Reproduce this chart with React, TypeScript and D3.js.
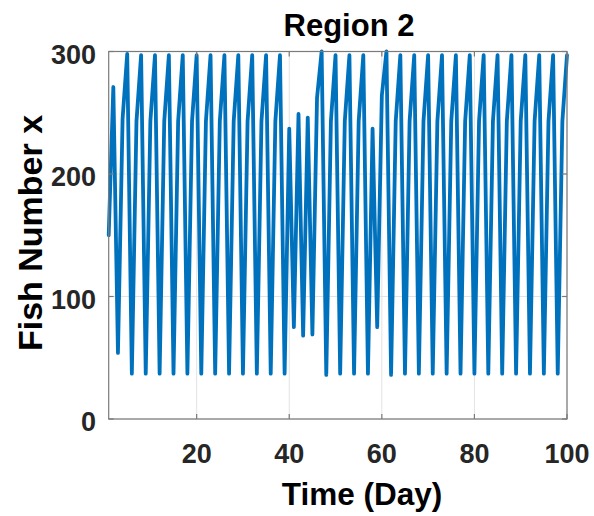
import React from "react";
import * as d3 from "d3";

const days: number[] = [
  1, 2, 3, 4, 5, 6, 7, 8, 9, 10, 11, 12, 13, 14, 15, 16, 17, 18, 19, 20,
  21, 22, 23, 24, 25, 26, 27, 28, 29, 30, 31, 32, 33, 34, 35, 36, 37, 38, 39, 40,
  41, 42, 43, 44, 45, 46, 47, 48, 49, 50, 51, 52, 53, 54, 55, 56, 57, 58, 59, 60,
  61, 62, 63, 64, 65, 66, 67, 68, 69, 70, 71, 72, 73, 74, 75, 76, 77, 78, 79, 80,
  81, 82, 83, 84, 85, 86, 87, 88, 89, 90, 91, 92, 93, 94, 95, 96, 97, 98, 99, 100,
];

const fish: number[] = [
  150, 271, 54, 245, 298, 37, 243, 297, 37, 243,
  297, 37, 243, 297, 37, 243, 297, 37, 243, 297,
  37, 243, 297, 37, 243, 297, 37, 243, 297, 37,
  243, 297, 37, 243, 297, 37, 243, 297, 37, 237,
  75, 249, 68, 246, 69, 262, 300, 36, 243, 297,
  37, 243, 297, 37, 243, 297, 37, 237, 75, 264,
  300, 36, 243, 297, 37, 243, 297, 37, 243, 297,
  37, 243, 297, 37, 243, 297, 37, 243, 297, 37,
  243, 297, 37, 243, 297, 37, 243, 297, 37, 243,
  297, 37, 243, 297, 37, 243, 297, 37, 243, 297,
];

const xTicks: number[] = [20, 40, 60, 80, 100];
const yTicks: number[] = [0, 100, 200, 300];
const titleText = "Region 2";
const xLabel = "Time (Day)";
const yLabel = "Fish Number x";

const W = 594;
const H = 516;
const L = 108.7;
const R = 567;
const T = 51.5;
const B = 419;

export default function App() {
  const x = d3.scaleLinear().domain([1, 100]).range([L, R]);
  const y = d3.scaleLinear().domain([0, 300]).range([B, T]);
  const pts = days.map((d, i) => [d, fish[i]] as [number, number]);
  const line = d3
    .line<[number, number]>()
    .x((d) => x(d[0]))
    .y((d) => y(d[1]));
  const font = "'Liberation Sans', Arial, sans-serif";
  const tickLen = 5;
  return (
    <svg
      width={W}
      height={H}
      style={{ position: "absolute", left: 0, top: 0, background: "#fff" }}
      fontFamily={font}
    >
      <rect x={0} y={0} width={W} height={H} fill="#fff" />
      {xTicks.map((t) => (
        <line key={"gx" + t} x1={x(t)} x2={x(t)} y1={T} y2={B} stroke="#e3e3e3" strokeWidth={1} />
      ))}
      {yTicks.map((t) => (
        <line key={"gy" + t} x1={L} x2={R} y1={y(t)} y2={y(t)} stroke="#e3e3e3" strokeWidth={1} />
      ))}
      <path d={line(pts) || ""} fill="none" stroke="#0072BD" strokeWidth={3.8} strokeLinejoin="round" strokeLinecap="round" />
      <rect x={L} y={T} width={R - L} height={B - T} fill="none" stroke="#7a7a7a" strokeWidth={1.2} />
      {xTicks.map((t) => (
        <g key={"tx" + t}>
          <line x1={x(t)} x2={x(t)} y1={B} y2={B - tickLen} stroke="#7a7a7a" strokeWidth={1.2} />
          <line x1={x(t)} x2={x(t)} y1={T} y2={T + tickLen} stroke="#7a7a7a" strokeWidth={1.2} />
          <text x={x(t)} y={463} textAnchor="middle" fontSize={27} fontWeight="bold" fill="#262626">
            {t}
          </text>
        </g>
      ))}
      {yTicks.map((t) => (
        <g key={"ty" + t}>
          <line x1={L} x2={L + tickLen} y1={y(t)} y2={y(t)} stroke="#7a7a7a" strokeWidth={1.2} />
          <line x1={R} x2={R - tickLen} y1={y(t)} y2={y(t)} stroke="#7a7a7a" strokeWidth={1.2} />
          <text x={96} y={y(t) + 12} textAnchor="end" fontSize={27} fontWeight="bold" fill="#262626">
            {t}
          </text>
        </g>
      ))}
      <text x={349} y={36} textAnchor="middle" fontSize={31} fontWeight="bold" fill="#000">
        {titleText}
      </text>
      <text x={362} y={505} textAnchor="middle" fontSize={31.5} fontWeight="bold" fill="#000">
        {xLabel}
      </text>
      <text
        transform={`translate(42, 233) rotate(-90)`}
        textAnchor="middle"
        fontSize={34}
        fontWeight="bold"
        fill="#000"
      >
        {yLabel}
      </text>
    </svg>
  );
}
